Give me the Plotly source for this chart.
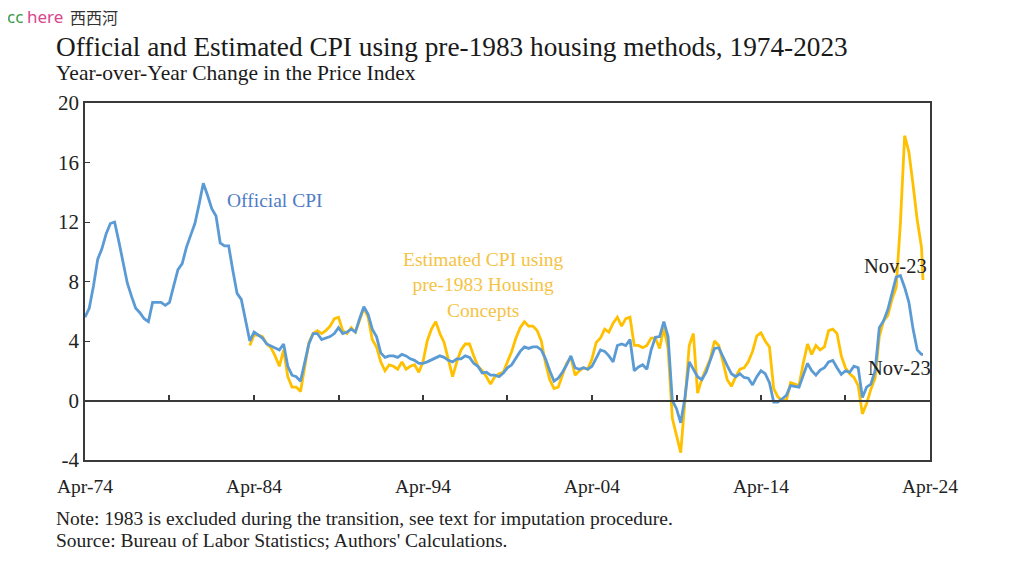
import pandas as pd
import plotly.graph_objects as go

# Quarterly observations from Apr-74 to Oct-23, plus the final Nov-23 point
dates = list(pd.date_range("1974-04-01", "2023-10-01", freq="3MS")) + [pd.Timestamp("2023-11-01")]

official_cpi = [
    5.6, 6.2, 7.7, 9.5, 10.2, 11.2, 11.9, 12.0, 10.7, 9.4,
    7.9, 7.0, 6.2, 5.9, 5.5, 5.3, 6.6, 6.6, 6.6, 6.4,
    6.6, 7.7, 8.8, 9.2, 10.3, 11.1, 11.9, 13.2, 14.6, 13.8,
    12.9, 12.4, 10.6, 10.4, 10.4, 8.7, 7.2, 6.8, 5.5, 4.0,
    4.6, 4.4, 4.2, 3.8, 3.65, 3.55, 3.4, 3.8, 2.3, 1.7,
    1.6, 1.3, 2.6, 3.8, 4.5, 4.5, 4.1, 4.2, 4.3, 4.5,
    4.9, 4.5, 4.6, 4.8, 4.6, 5.5, 6.3, 5.8, 4.8, 4.3,
    3.2, 2.9, 3.0, 3.0, 2.9, 3.1, 3.0, 2.8, 2.7, 2.5,
    2.5, 2.6, 2.75, 2.9, 3.0, 2.9, 2.7, 2.6, 2.8, 2.8,
    3.0, 2.9, 2.5, 2.3, 1.85, 1.9, 1.7, 1.7, 1.6, 1.85,
    2.2, 2.4, 2.85, 3.3, 3.6, 3.5, 3.6, 3.6, 3.4, 2.8,
    2.0, 1.3, 1.5, 1.9, 2.4, 3.0, 2.2, 2.1, 2.2, 2.1,
    2.3, 2.9, 3.4, 3.3, 3.0, 2.6, 3.7, 3.8, 3.7, 4.1,
    2.0, 2.25, 2.4, 2.1, 3.4, 4.25, 4.3, 5.3, 4.3, 0.0,
    -0.55, -1.5, 0.2, 2.6, 2.1, 1.6, 1.4, 1.9, 2.7, 3.5,
    3.55, 3.0, 2.35, 1.8, 1.6, 1.8, 1.55, 1.5, 1.05, 1.6,
    2.0, 1.8, 1.2, -0.1, -0.1, 0.1, 0.35, 1.0, 0.95, 0.9,
    1.7, 2.5, 2.0, 1.7, 2.05, 2.2, 2.6, 2.7, 2.2, 1.75,
    2.0, 1.9, 2.3, 2.2, 0.2, 0.9, 1.1, 2.0, 4.9, 5.35,
    6.1, 7.2, 8.3, 8.4, 7.6, 6.6, 4.8, 3.4, 3.1,
    3.1,
]

# Estimated series coincides with the official one before the 1983 transition
estimated_cpi = [None] * 39 + [
    3.7, 4.4, 4.4,
    4.3, 3.8, 3.55, 3.0, 2.3, 3.4, 1.6, 0.9,
    0.9, 0.6, 2.4, 3.9, 4.5, 4.7, 4.5, 4.7, 5.0, 5.5,
    5.6, 4.7, 4.5, 4.9, 4.6, 5.4, 6.2, 5.6, 4.1, 3.6,
    2.6, 2.0, 2.4, 2.3, 2.1, 2.6, 2.1, 2.3, 2.4, 1.9,
    2.6, 4.0, 4.8, 5.3, 4.5, 3.9, 2.7, 1.6, 2.6, 3.4,
    3.8, 3.8, 3.0, 2.3, 2.0, 1.6, 1.1, 1.6, 1.8, 1.9,
    2.6, 3.3, 4.2, 4.9, 5.3, 5.0, 5.0, 4.7, 4.0, 2.5,
    1.4, 0.8, 0.9, 1.7, 2.5, 2.9, 1.7, 2.0, 2.2, 2.1,
    2.8, 3.9, 4.2, 4.8, 4.6, 5.2, 5.6, 5.0, 5.5, 5.6,
    3.7, 3.7, 3.55, 3.7, 4.2, 4.2, 3.5, 4.9, 3.5, -1.2,
    -2.4, -3.5, 0.0, 3.7, 4.5, 0.5, 1.45, 2.1, 2.8, 4.0,
    3.7, 2.6, 1.4, 0.95, 1.6, 2.1, 2.2, 2.6, 3.3, 4.35,
    4.55, 4.0, 3.6, 0.8, 0.25, 0.0, 0.0, 1.2, 1.1, 1.0,
    2.5, 3.8, 3.1, 3.7, 3.4, 3.6, 4.7, 4.8, 4.5, 3.0,
    2.2, 1.8, 1.55, 1.0, -0.9, -0.2, 0.75, 1.5, 4.3, 5.35,
    5.7, 6.8, 7.6, 11.9, 17.8, 16.7, 14.5, 12.1, 10.3,
    8.1,
]

x_range = ["1974-04-01", "2024-04-01"]
y_ticks = [-4, 0, 4, 8, 12, 16, 20]
y_tick_labels = ["-4", "0", "4", "8", "12", "16", "20"]

BLUE = "#5B9BD5"
GOLD = "#FFC000"
AXIS = "#3a3a3a"
SERIF = "Liberation Serif, Times New Roman, serif"
SANS = "Noto Sans, Noto Sans CJK SC, sans-serif"
CJK = "Noto Sans CJK SC, sans-serif"

fig = go.Figure()
fig.add_trace(go.Scatter(x=dates, y=estimated_cpi, mode="lines",
                         line=dict(color=GOLD, width=2.8), name="Estimated CPI",
                         showlegend=False, hoverinfo="skip"))
fig.add_trace(go.Scatter(x=dates, y=official_cpi, mode="lines",
                         line=dict(color=BLUE, width=2.8), name="Official CPI",
                         showlegend=False, hoverinfo="skip"))
# helper (invisible) trace so the zero-line axis with 5-year ticks is drawn
fig.add_trace(go.Scatter(x=[dates[0]], y=[None], xaxis="x2", mode="lines",
                         showlegend=False, hoverinfo="skip"))

fig.update_layout(
    width=1016, height=567,
    margin=dict(l=77, r=94, t=95, b=115),
    paper_bgcolor="white", plot_bgcolor="white",
    font=dict(family=SERIF, color="#222"),
    xaxis=dict(
        range=x_range, type="date",
        tick0="1974-04-01", dtick="M120", tickformat="%b-%y",
        showgrid=False, zeroline=False,
        showline=True, linecolor=AXIS, linewidth=1.5, mirror=True,
        ticks="", ticklabelstandoff=8,
        tickfont=dict(size=19.5, family=SERIF, color="#222"),
    ),
    xaxis2=dict(
        range=x_range, type="date", overlaying="x", anchor="free",
        position=4 / 24, side="bottom",
        tick0="1974-04-01", dtick="M60",
        showgrid=False, zeroline=False, showticklabels=False,
        showline=True, linecolor=AXIS, linewidth=1.5,
        ticks="inside", ticklen=5, tickwidth=1.5, tickcolor=AXIS,
    ),
    yaxis=dict(
        range=[-4, 20], tickvals=y_ticks, ticktext=y_tick_labels,
        showgrid=False, zeroline=False,
        showline=True, linecolor=AXIS, linewidth=1.5, mirror=True,
        ticks="inside", ticklen=5, tickwidth=1.2, tickcolor=AXIS,
        tickfont=dict(size=21, family=SERIF, color="#222"),
    ),
)

annotations = [
    dict(text="Official and Estimated CPI using pre-1983 housing methods, 1974-2023",
         x=-0.037, y=1.156, xanchor="left", yanchor="middle",
         font=dict(size=27.3, family=SERIF, color="#1a1a1a")),
    dict(text="Year-over-Year Change in the Price Index",
         x=-0.037, y=1.084, xanchor="left", yanchor="middle",
         font=dict(size=21.5, family=SERIF, color="#1a1a1a")),
    dict(text="Official CPI", x=0.225, y=0.728, xanchor="center", yanchor="middle",
         font=dict(size=19.5, family=SERIF, color="#4F7CC4")),
    dict(text="Estimated CPI using<br>pre-1983 Housing<br>Concepts",
         x=0.472, y=0.49, xanchor="center", yanchor="middle",
         font=dict(size=19.5, family=SERIF, color="#F5C343")),
    dict(text="Nov-23", x=0.959, y=0.543, xanchor="center", yanchor="middle",
         font=dict(size=20.5, family=SERIF, color="#222")),
    dict(text="Nov-23", x=0.964, y=0.258, xanchor="center", yanchor="middle",
         font=dict(size=20.5, family=SERIF, color="#222")),
    dict(text="Note: 1983 is excluded during the transition, see text for imputation procedure.",
         x=-0.037, y=-0.163, xanchor="left", yanchor="middle",
         font=dict(size=19.5, family=SERIF, color="#222")),
    dict(text="Source: Bureau of Labor Statistics; Authors' Calculations.",
         x=-0.037, y=-0.225, xanchor="left", yanchor="middle",
         font=dict(size=19.5, family=SERIF, color="#222")),
    # site watermark at the top-left corner
    dict(text="cc", x=-0.095, y=1.281, xanchor="left", yanchor="top",
         font=dict(size=17, family=SANS, color="#3a9a4a")),
    dict(text="here", x=-0.071, y=1.281, xanchor="left", yanchor="top",
         font=dict(size=17, family=SANS, color="#d9468f")),
    dict(text="西西河", x=-0.02, y=1.281, xanchor="left", yanchor="top",
         font=dict(size=16, family=CJK, color="#333")),
]
for a in annotations:
    a.update(xref="paper", yref="paper", showarrow=False)
fig.update_layout(annotations=annotations)

fig.write_html("out.html")
